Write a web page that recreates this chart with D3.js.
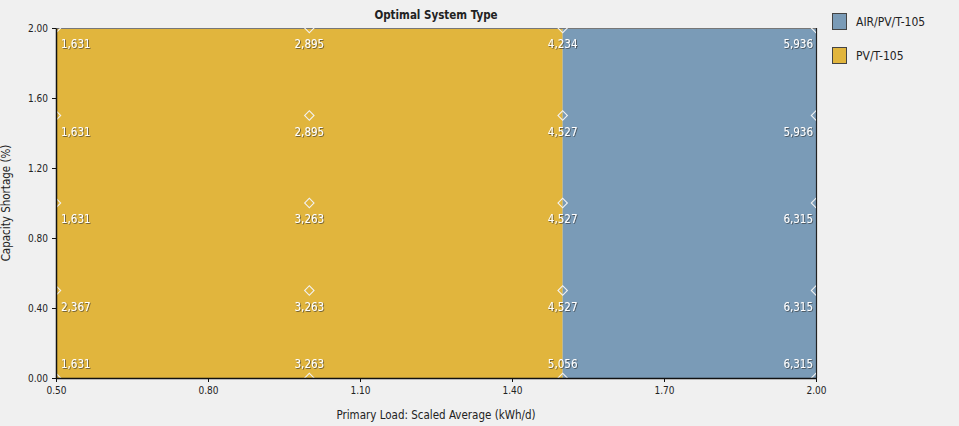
<!DOCTYPE html>
<html><head><meta charset="utf-8">
<script src="https://cdn.jsdelivr.net/npm/d3@7"></script>
<style>
html,body{margin:0;padding:0;background:#f0f0f0;}
text{font-family:"DejaVu Sans Condensed","DejaVu Sans",sans-serif;}
</style></head>
<body><svg id="c" width="959" height="426"></svg>
<script>
const xValues = [0.5, 1.0, 1.5, 2.0];
const yValues = [0, 0.5, 1.0, 1.5, 2.0];
// labels[row for y][col for x]
const labelRows = [
  [1631, 3263, 5056, 6315],  // y=0
  [2367, 3263, 4527, 6315],  // y=0.5
  [1631, 3263, 4527, 6315],  // y=1.0
  [1631, 2895, 4527, 5936],  // y=1.5
  [1631, 2895, 4234, 5936]   // y=2.0
];
const regions = [
  {name: "PV/T-105", x0: 0.5, x1: 1.5, y0: 0, y1: 2.0},
  {name: "AIR/PV/T-105", x0: 1.5, x1: 2.0, y0: 0, y1: 2.0}
];
const legendItems = ["AIR/PV/T-105", "PV/T-105"];
const xTicks = [0.5, 0.8, 1.1, 1.4, 1.7, 2.0];
const yTicks = [0, 0.4, 0.8, 1.2, 1.6, 2.0];
const colors = {"PV/T-105": "#e1b53d", "AIR/PV/T-105": "#7a9bb7"};

const svg = d3.select("#c");
const m = {l: 56, r: 816, t: 28, b: 378};
const x = d3.scaleLinear().domain([0.5, 2.0]).range([m.l, m.r]);
const y = d3.scaleLinear().domain([0, 2.0]).range([m.b, m.t]);

svg.append("defs").append("clipPath").attr("id","clip")
  .append("rect").attr("x", m.l).attr("y", m.t).attr("width", m.r-m.l).attr("height", m.b-m.t);
const f = svg.append("filter").attr("id","sh").attr("x","-20%").attr("y","-40%").attr("width","140%").attr("height","180%");
f.append("feDropShadow").attr("dx",0.8).attr("dy",0.8).attr("stdDeviation",0.6).attr("flood-color","#333").attr("flood-opacity",0.75);

svg.selectAll("rect.reg").data(regions).join("rect").attr("class","reg")
  .attr("x", d => x(d.x0)).attr("y", d => y(d.y1))
  .attr("width", d => x(d.x1) - x(d.x0)).attr("height", d => y(d.y0) - y(d.y1))
  .attr("fill", d => colors[d.name]);

// top border
svg.append("line").attr("x1", m.l).attr("x2", m.r).attr("y1", m.t+0.5).attr("y2", m.t+0.5)
  .attr("stroke", "#777").attr("stroke-width", 1);
svg.append("line").attr("x1", m.r+0.5).attr("x2", m.r+0.5).attr("y1", m.t).attr("y2", m.b)
  .attr("stroke", "#222").attr("stroke-width", 1.2);

// points
const pts = [];
yValues.forEach((yv, i) => xValues.forEach((xv, j) => pts.push({x: xv, y: yv, v: labelRows[i][j], i, j})));

const pg = svg.append("g").attr("clip-path","url(#clip)");
pg.selectAll("path.pt").data(pts).join("path").attr("class","pt")
  .attr("d", d3.symbol().type(d3.symbolSquare).size(44))
  .attr("transform", d => `translate(${x(d.x)},${y(d.y)}) rotate(45)`)
  .attr("fill","none").attr("stroke","#f2f2f2").attr("stroke-width",1.1);

const fmt = d3.format(",");
svg.selectAll("text.lbl").data(pts).join("text").attr("class","lbl")
  .attr("x", d => d.j === 0 ? x(d.x) + 5 : (d.j === xValues.length-1 ? x(d.x) - 3 : x(d.x)))
  .attr("y", d => d.i === 0 ? y(d.y) - 10 : y(d.y) + 20)
  .attr("text-anchor", d => d.j === 0 ? "start" : (d.j === xValues.length-1 ? "end" : "middle"))
  .attr("fill","#fff").attr("font-size", 11.5).attr("filter","url(#sh)")
  .text(d => fmt(d.v));

// axes
const xa = svg.append("g").attr("transform",`translate(0,${m.b})`)
  .call(d3.axisBottom(x).tickValues(xTicks).tickFormat(d3.format(".2f")).tickSize(4).tickSizeOuter(0));
const ya = svg.append("g").attr("transform",`translate(${m.l},0)`)
  .call(d3.axisLeft(y).tickValues(yTicks).tickFormat(d3.format(".2f")).tickSize(4).tickSizeOuter(0));
[xa, ya].forEach(a => {
  a.select(".domain").attr("stroke","#111").attr("stroke-width",1.5);
  a.selectAll(".tick line").attr("stroke","#111");
  a.selectAll("text").attr("fill","#222").attr("font-size",10)
    .style("font-family",'"DejaVu Sans Condensed","DejaVu Sans",sans-serif');
});
xa.selectAll("text").attr("dy","0.9em");
ya.selectAll("text").attr("dx","-1px");

svg.append("text").attr("x", (m.l+m.r)/2).attr("y", 19).attr("text-anchor","middle")
  .attr("font-size", 11.5).attr("font-weight","bold").attr("fill","#222").text("Optimal System Type");
svg.append("text").attr("x", (m.l+m.r)/2).attr("y", 419).attr("text-anchor","middle")
  .attr("font-size", 11.5).attr("fill","#222").text("Primary Load: Scaled Average (kWh/d)");
svg.append("text").attr("transform",`translate(10,${(m.t+m.b)/2}) rotate(-90)`).attr("text-anchor","middle")
  .attr("font-size", 11.5).attr("fill","#222").text("Capacity Shortage (%)");

const lg = svg.append("g").selectAll("g").data(legendItems).join("g")
  .attr("transform", (d,i) => `translate(832,${13 + i*34})`);
lg.append("rect").attr("width",14).attr("height",16).attr("x",0.5).attr("y",0.5)
  .attr("fill", d => colors[d]).attr("stroke","#444").attr("stroke-width",1);
lg.append("text").attr("x",24).attr("y",13).attr("font-size",12).attr("fill","#222").text(d => d);
</script></body></html>
